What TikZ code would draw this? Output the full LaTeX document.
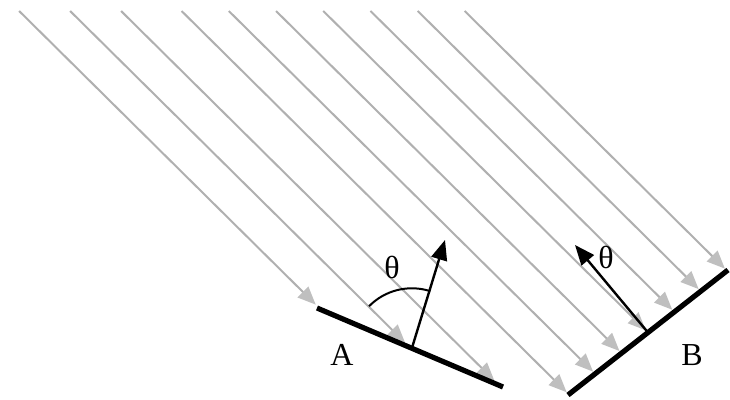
\documentclass[tikz,border=0pt]{standalone}
\usepackage{fontspec}
\setmainfont{Liberation Serif}
\usepackage{tikz}
\usetikzlibrary{arrows.meta, calc}

\begin{document}
\begin{tikzpicture}[
    x=0.5pt, y=0.5pt,
    ray/.style={draw=gray!62, line width=1pt,
                -{Triangle[length=9pt, width=7.5pt, color=gray!50, fill=gray!50]}},
    plate/.style={draw=black, line width=2.6pt},
    normal/.style={draw=black, line width=1.2pt, -{Triangle[length=10pt, width=8pt]}},
    lbl/.style={font=\fontsize{16}{18}\selectfont, inner sep=0pt}
]
\useasboundingbox (0,0) rectangle (730,400);

% the two plates
\coordinate (a1) at (317,92);
\coordinate (a2) at (503,13);
\coordinate (b1) at (568,5);
\coordinate (b2) at (728,130);

% parallel rays falling on A and on B
\foreach \t [count=\i] in {0.02, 0.5, 0.98} {
    \coordinate (ta\i) at ($(a1)!\t!(a2)$);
    \draw[ray, shorten >=3.5pt] let \p1=(ta\i) in ({\x1-(194.5pt-\y1)/0.99}, 194.5pt) -- (ta\i);
}
\foreach \t [count=\i] in {0.005, 0.17, 0.335, 0.5, 0.665, 0.83, 0.994} {
    \coordinate (tb\i) at ($(b1)!\t!(b2)$);
    \draw[ray, shorten >=1.5pt] let \p1=(tb\i) in ({\x1-(194.5pt-\y1)/0.99}, 194.5pt) -- (tb\i);
}

\draw[plate] (a1) -- (a2);
\draw[plate] (b1) -- (b2);

% normals
\coordinate (na) at ($(a1)!0.51!(a2)$);
\coordinate (nat) at (445,160);
\draw[normal] (na) -- (nat);
\draw[line width=1pt] (na) ++(72:30pt) arc[start angle=72, end angle=135.5, radius=30pt];

\coordinate (nb) at ($(b1)!0.5!(b2)$);
\coordinate (nbt) at (575,155);
\draw[normal] (nb) -- (nbt);

\node[lbl] (tha) at (392,133) {θ};
\node[lbl] (thb) at (606,143) {θ};
\node[lbl] (la) at (342,45) {A};
\node[lbl] (lb) at (692,45) {B};
\end{tikzpicture}
\end{document}
